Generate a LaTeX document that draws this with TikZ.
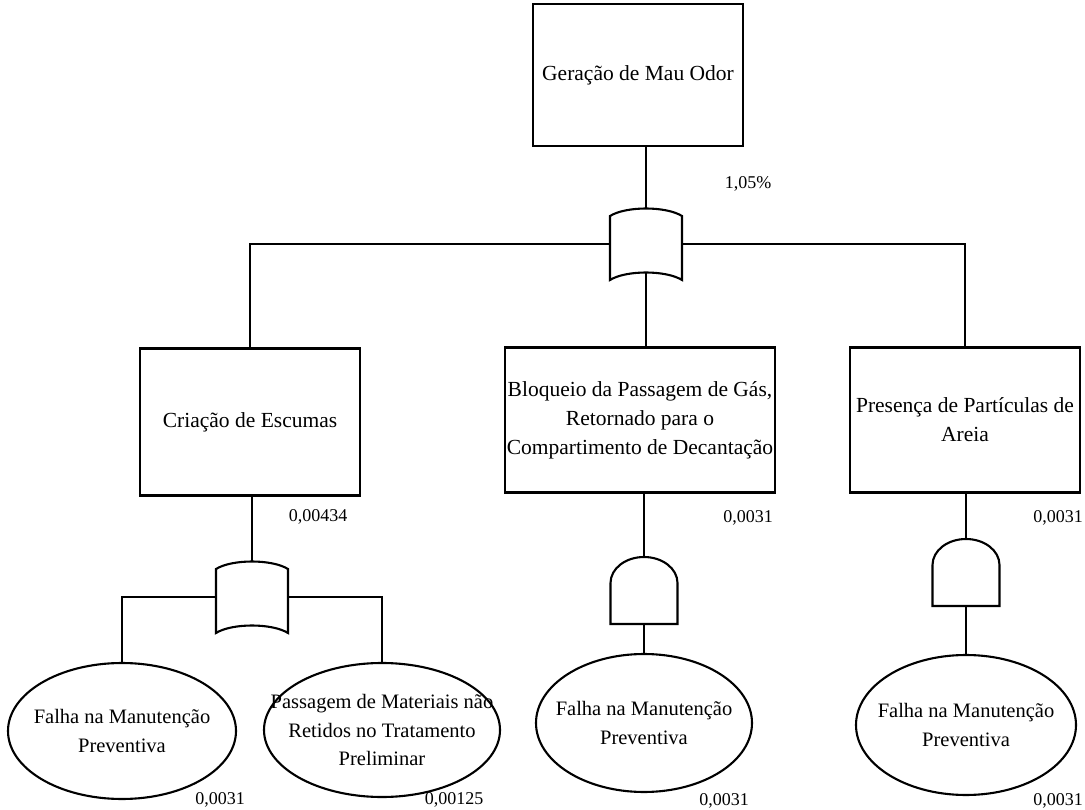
\documentclass[tikz,border=0pt]{standalone}
\usepackage{fontspec}
\setmainfont{Liberation Serif}
\usetikzlibrary{shapes.geometric}
\newcommand{\boxfont}{\fontsize{21.5}{29}\selectfont}
\newcommand{\ellfont}{\fontsize{20.5}{28.5}\selectfont}
\newcommand{\valfont}{\fontsize{18}{22}\selectfont}
\tikzset{
  orgate/.pic={
    \draw (-36,36) -- (-36,-28) .. controls (-20,-38) and (20,-38) .. (36,-28)
      -- (36,36) .. controls (20,26) and (-20,26) .. (-36,36) -- cycle;
    \coordinate (-n) at (0,-35.5);
    \coordinate (-s) at (0,28.5);
    \coordinate (-w) at (-36,0);
    \coordinate (-e) at (36,0);
  },
  andgate/.pic={
    \draw (-33.5,0) -- (-33.5,-41) .. controls (-33.5,-55.4) and (-18.5,-67) .. (0,-67)
      .. controls (18.5,-67) and (33.5,-55.4) .. (33.5,-41) -- (33.5,0) -- cycle;
    \coordinate (-n) at (0,-67);
    \coordinate (-s) at (0,0);
  }
}

\begin{document}
\begin{tikzpicture}[x=1pt,y=-1pt,line width=2.1pt,
  event/.style={draw,rectangle,inner sep=2pt,align=center,font=\boxfont},
  basic/.style={draw,ellipse,inner sep=0pt},
  lbl/.style={align=center,font=\ellfont},
  prob/.style={font=\valfont}]
\useasboundingbox (0,0) rectangle (1085,810);
\node[event,minimum width=210,minimum height=142] (odor) at (638,75) {Geração de Mau Odor};
\node[prob] (podor) at (748,184) {1,05\%};
\pic (g1) at (646,244) {orgate};
\node[event,minimum width=220,minimum height=147] (escuma) at (250,422) {Criação de Escumas};
\node[event,minimum width=264,minimum height=145] (gas) at (640,420) {Bloqueio da Passagem de Gás,\\Retornado para o\\Compartimento de Decantação};
\node[event,minimum width=230,minimum height=145] (areia) at (965,420) {Presença de Partículas de\\Areia};
\node[prob] (pescuma) at (318,517) {0,00434};
\node[prob] (pgas) at (748,518) {0,0031};
\node[prob] (pareia) at (1058,518) {0,0031};
\pic (g2) at (252,597) {orgate};
\pic (g3) at (644,624) {andgate};
\pic (g4) at (966,606) {andgate};
\node[basic,minimum width=228,minimum height=136,label={[lbl]center:Falha na Manutenção\\Preventiva}] (falha1) at (122,731) {};
\node[basic,minimum width=236,minimum height=134,label={[lbl]center:Passagem de Materiais não\\Retidos no Tratamento\\Preliminar}] (mat) at (382,730) {};
\node[basic,minimum width=216,minimum height=138,label={[lbl]center:Falha na Manutenção\\Preventiva}] (falha2) at (644,723) {};
\node[basic,minimum width=220,minimum height=140,label={[lbl]center:Falha na Manutenção\\Preventiva}] (falha3) at (966,725) {};
\node[prob] (pfalha1) at (220,800) {0,0031};
\node[prob] (pmat) at (454,800) {0,00125};
\node[prob] (pfalha2) at (724,801) {0,0031};
\node[prob] (pfalha3) at (1058,801) {0,0031};
\draw (odor.south -| g1-n) -- (g1-n);
\draw (g1-w) -| (escuma.north);
\draw (g1-e) -| (areia.north);
\draw (g1-s) -- (g1-s |- gas.north);
\draw (escuma.south -| g2-n) -- (g2-n);
\draw (g2-w) -| (falha1.north);
\draw (g2-e) -| (mat.north);
\draw (gas.south -| g3-n) -- (g3-n);
\draw (g3-s) -- (falha2.north);
\draw (areia.south -| g4-n) -- (g4-n);
\draw (g4-s) -- (falha3.north);
\end{tikzpicture}
\end{document}
